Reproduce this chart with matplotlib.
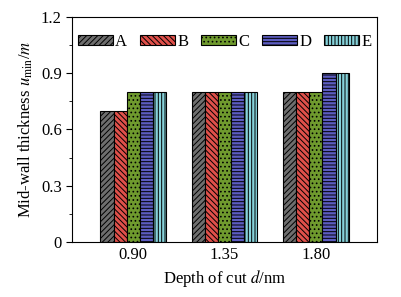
import numpy as np
import matplotlib.pyplot as plt

plt.rcParams['font.family'] = ['Liberation Serif', 'DejaVu Serif']
plt.rcParams['mathtext.fontset'] = 'stix'
plt.rcParams['hatch.linewidth'] = 0.7

depths = ['0.90', '1.35', '1.80']
series = ['A', 'B', 'C', 'D', 'E']
values = {
    'A': [0.7, 0.8, 0.8],
    'B': [0.7, 0.8, 0.8],
    'C': [0.8, 0.8, 0.8],
    'D': [0.8, 0.8, 0.9],
    'E': [0.8, 0.8, 0.9],
}
colors = ['#6e6e6e', '#e0504a', '#6f9a2e', '#5c5cc0', '#86d2da']
hatches = ['//////', '\\\\\\\\\\\\', '....', '-----', '|||||']

fig = plt.figure(figsize=(4.01, 2.97), dpi=100)
ax = fig.add_axes([0.18, 0.185, 0.76, 0.758])

x = np.arange(len(depths))
w = 0.144
for i, s in enumerate(series):
    ax.bar(x + (i - 2) * w, values[s], w, color=colors[i], edgecolor='black',
           hatch=hatches[i], linewidth=0.8, label=s)

ax.set_xlim(-0.67, 2.67)
ax.set_ylim(0, 1.2)
ax.set_xticks(x)
ax.set_xticklabels(depths)
ax.set_yticks([0, 0.3, 0.6, 0.9, 1.2])
ax.set_yticklabels(['0', '0.3', '0.6', '0.9', '1.2'])
ax.set_yticks(np.arange(0.15, 1.2, 0.3), minor=True)
ax.tick_params(axis='both', labelsize=12)
ax.tick_params(axis='x', length=0)
ax.tick_params(axis='y', which='major', length=4)
ax.tick_params(axis='y', which='minor', length=2)

ax.set_xlabel('Depth of cut $\\mathit{d}$/nm', fontsize=12)
ax.set_ylabel('Mid-wall thickness $\\mathit{u}_{\\rm min}$/$\\mathit{m}$', fontsize=12)

ax.legend(loc='upper center', ncol=5, frameon=False, fontsize=12,
          handlelength=2.1, handleheight=0.55, handletextpad=0.15,
          columnspacing=0.75, borderaxespad=0.6)

fig.savefig('out.png', dpi=100)
